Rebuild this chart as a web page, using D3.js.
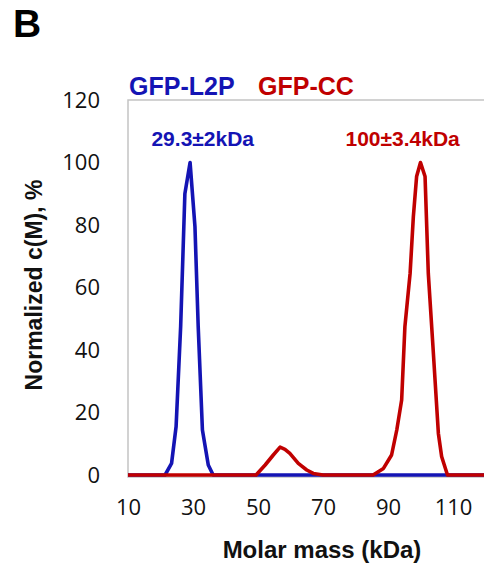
<!DOCTYPE html>
<html>
<head>
<meta charset="utf-8">
<script src="https://cdn.jsdelivr.net/npm/d3@7"></script>
<style>
  html, body { margin: 0; padding: 0; background: #fff; }
  svg { display: block; }
</style>
</head>
<body>
<svg id="chart" width="484" height="569"></svg>
<script>
// ---- data ----
const xTicks = [10, 30, 50, 70, 90, 110];
const yTicks = [0, 20, 40, 60, 80, 100, 120];

const blueMass  = [10, 21.4, 23.4, 24.8, 26.2, 27.5, 29.1, 30.6, 31.6, 32.9, 34.7, 36.2, 120];
const blueValue = [0, 0, 3.7, 15.5, 47.5, 90, 100, 79.5, 47.5, 14.4, 3.2, 0, 0];

const redMass  = [10, 49.4, 52.2, 54.7, 56.8, 58.3, 59.8, 62.4, 65, 67, 70, 85.4, 88.6, 91.1, 92.7, 94.2, 95.2, 96.8, 97.8, 98.8, 100, 101.4, 102.4, 103.9, 105.5, 106.5, 108.3, 120];
const redValue = [0, 0, 3.2, 6.4, 8.9, 8.2, 6.9, 3.7, 1.6, 0.5, 0, 0, 2.1, 6.4, 14.4, 24, 47.5, 64.5, 82.7, 95.5, 100, 95.5, 64.5, 40, 13.3, 5.9, 0, 0];

const seriesNames = ["GFP-L2P", "GFP-CC"];
const annotations = ["29.3±2kDa", "100±3.4kDa"];
const annotationX = [33, 94.5];

(function () {
// ---- layout ----
const BLUE = "#1414b4", RED = "#c00000";
const svg = d3.select("#chart");
const pLeft = 128, pRight = 485.5, pTop = 100, pBottom = 475;
const x = d3.scaleLinear().domain([10, 120]).range([pLeft, pRight]);
const y = d3.scaleLinear().domain([0, 120]).range([pBottom, pTop]);

// panel letter
svg.append("text").attr("x", 13).attr("y", 37)
  .attr("font-family", "Liberation Sans, Arial, sans-serif")
  .attr("font-weight", "bold").attr("font-size", 39).text("B");

// plot box
svg.append("rect").attr("x", pLeft).attr("y", pTop)
  .attr("width", 400).attr("height", pBottom + 2 - pTop)
  .attr("fill", "none").attr("stroke", "#c4c4c4").attr("stroke-width", 1.5);

// axes (tick labels only)
const tickFont = "Open Sans, Liberation Sans, sans-serif";
const yAxis = svg.append("g").attr("transform", `translate(${pLeft},0)`)
  .call(d3.axisLeft(y).tickValues(yTicks).tickSize(0).tickPadding(28));
yAxis.select(".domain").remove();
yAxis.selectAll("text").attr("font-family", tickFont).attr("font-size", 22).attr("fill", "#111");

const xAxis = svg.append("g").attr("transform", `translate(0,${pBottom})`)
  .call(d3.axisBottom(x).tickValues(xTicks).tickSize(0).tickPadding(24));
xAxis.select(".domain").remove();
xAxis.selectAll("text").attr("font-family", tickFont).attr("font-size", 22).attr("fill", "#111");

// curves
const line = d3.line().x(d => x(d[0])).y(d => y(d[1]));
const blueData = blueMass.map((m, i) => [m, blueValue[i]]);
const redData = redMass.map((m, i) => [m, redValue[i]]);
svg.append("path").datum(blueData).attr("d", line)
  .attr("fill", "none").attr("stroke", BLUE).attr("stroke-width", 3.6).attr("stroke-linejoin", "round");
svg.append("path").datum(redData).attr("d", line)
  .attr("fill", "none").attr("stroke", RED).attr("stroke-width", 3.6).attr("stroke-linejoin", "round");

// legend titles
const boldFont = "Liberation Sans, Arial, sans-serif";
svg.append("text").attr("x", 129).attr("y", 95)
  .attr("font-family", boldFont).attr("font-weight", "bold").attr("font-size", 25)
  .attr("fill", BLUE).text(seriesNames[0]);
svg.append("text").attr("x", 258).attr("y", 95)
  .attr("font-family", boldFont).attr("font-weight", "bold").attr("font-size", 25)
  .attr("fill", RED).text(seriesNames[1]);

// annotations
[BLUE, RED].forEach((c, i) => {
  svg.append("text").attr("x", x(annotationX[i])).attr("y", 146)
    .attr("text-anchor", "middle")
    .attr("font-family", boldFont).attr("font-weight", "bold").attr("font-size", 21)
    .attr("fill", c).text(annotations[i]);
});

// axis titles
svg.append("text").attr("x", 322).attr("y", 558)
  .attr("text-anchor", "middle")
  .attr("font-family", boldFont).attr("font-weight", "bold").attr("font-size", 24)
  .attr("fill", "#111").text("Molar mass (kDa)");
svg.append("text").attr("transform", "translate(42,285) rotate(-90)")
  .attr("text-anchor", "middle")
  .attr("font-family", boldFont).attr("font-weight", "bold").attr("font-size", 23)
  .attr("fill", "#111").text("Normalized c(M), %");
})();
</script>
</body>
</html>
